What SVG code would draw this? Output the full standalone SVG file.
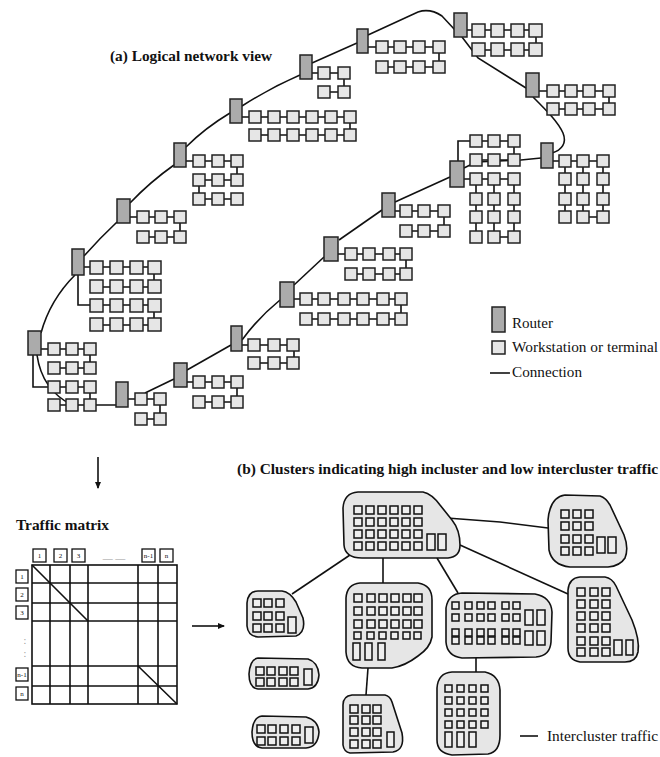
<svg xmlns="http://www.w3.org/2000/svg" xmlns:xlink="http://www.w3.org/1999/xlink" width="660" height="757" viewBox="0 0 660 757">
<style>
.c{fill:none;stroke:#111;stroke-width:1.6}
.rt{fill:#ababab;stroke:#222;stroke-width:1.5}
.ws{fill:#e6e6e6;stroke:#222;stroke-width:1.5}
.cl{fill:#e6e6e6;stroke:#111;stroke-width:1.6}
.cb{fill:#eeeeee;stroke:#111;stroke-width:1.5}
.t{font-family:"Liberation Serif",serif;font-weight:bold;font-size:15px;fill:#111}
.l{font-family:"Liberation Serif",serif;font-size:15px;fill:#111}
.h{font-family:"Liberation Serif",serif;font-size:7px;fill:#111;text-anchor:middle}
.g{font-family:"Liberation Serif",serif;font-size:10px;fill:#999;text-anchor:middle}
.m{fill:none;stroke:#111;stroke-width:1.6}
</style>
<defs>
<rect id="w" width="12" height="12" class="ws"/>
<rect id="w13" width="13" height="13" class="ws"/>
<rect id="k" width="8" height="8" class="cb"/>
<rect id="k7" width="7" height="7" class="cb"/>
<rect id="kt" width="8" height="16" class="cb"/>
<marker id="ah" markerWidth="8" markerHeight="8" refX="6" refY="4" orient="auto" markerUnits="userSpaceOnUse"><path d="M0,1 L7,4 L0,7 Z" fill="#111"/></marker>
</defs>
<rect width="660" height="757" fill="#fff"/>

<text class="t" x="110" y="61" textLength="162" lengthAdjust="spacingAndGlyphs">(a) Logical network view</text>

<g id="connectors">
<!-- ring -->
<path class="c" d="M41,333 Q50,300 75,275"/>
<path class="c" d="M84,256 Q100,238 117,222"/>
<path class="c" d="M130,203 Q150,182 174,165"/>
<path class="c" d="M186,147 Q205,128 230,113"/>
<path class="c" d="M242,106 Q270,88 300,75"/>
<path class="c" d="M312,63 L357,43"/>
<path class="c" d="M368,35 L418,12 Q430,8 442,16 L455,30"/>
<path class="c" d="M462,37 L478,58 L526,88"/>
<path class="c" d="M533,97 C548,112 558,122 563,133 C567,143 562,150 552,153"/>
<path class="c" d="M541,158 L521,160 L476,162 L464,168"/>
<path class="c" d="M450,177 L395,202"/>
<path class="c" d="M382,210 L339,240"/>
<path class="c" d="M324,257 L294,285"/>
<path class="c" d="M280,300 Q258,318 242,340"/>
<path class="c" d="M231,345 L187,370"/>
<path class="c" d="M174,379 L145,393"/>
<path class="c" d="M37,355 Q42,390 72,405"/>
<path class="c" d="M54,405 H116"/>
<!-- intra-group -->
<path class="c" d="M312,73 H344 V92 H324"/>
<path class="c" d="M242,117 H350 V135 H255"/>
<path class="c" d="M186,161 H237 V180 H199 V199 H237"/>
<path class="c" d="M130,217 H180 V237 H143"/>
<path class="c" d="M84,267 H154 V287 H96 M78,275 V305 H154 V325 H96"/>
<path class="c" d="M41,349 H90 V368 H54 M33,355 V387 H90 V405"/>
<path class="c" d="M128,399 H160 V419 H141"/>
<path class="c" d="M187,382 H237 V402 H199"/>
<path class="c" d="M242,345 H294 V363 H254"/>
<path class="c" d="M294,299 H401 V319 H306"/>
<path class="c" d="M338,254 H406 V274 H351"/>
<path class="c" d="M395,211 H444 V231 H406"/>
<path class="c" d="M458,161 V141 H514 V160 H476 M464,179 H514 M476,179 V237 M494,179 V237 M514,179 V237 M494,237 H514"/>
<path class="c" d="M552,161 H603 M565,161 V217 M583,161 V217 M603,161 V217 M583,217 H603"/>
<path class="c" d="M539,91 H609 V109 H553"/>
<path class="c" d="M467,30 H536 V50 H478"/>
<path class="c" d="M368,47 H439 V67 H382"/>
<!-- arrows -->
<path class="c" d="M98,457 V488" marker-end="url(#ah)"/>
<path class="c" d="M192,626 H224" marker-end="url(#ah)"/>
<!-- cluster links -->
<path class="c" d="M447,518 L500,522 L548,528"/>
<path class="c" d="M460,545 L568,594"/>
<path class="c" d="M437,558 L458,593"/>
<path class="c" d="M383,558 V583"/>
<path class="c" d="M350,555 L292,594"/>
<path class="c" d="M368,668 L366,695"/>
<path class="c" d="M476,658 V672"/>
</g>

<g id="r1"><rect class="rt" x="300" y="55" width="12" height="24"/>
<use href="#w" x="318" y="67"/><use href="#w" x="338" y="67"/><use href="#w" x="318" y="86"/><use href="#w" x="338" y="86"/></g>

<g id="r2"><rect class="rt" x="230" y="99" width="12" height="24"/>
<use href="#w" x="249" y="111"/><use href="#w" x="268" y="111"/><use href="#w" x="287" y="111"/><use href="#w" x="306" y="111"/><use href="#w" x="325" y="111"/><use href="#w" x="344" y="111"/>
<use href="#w" x="249" y="129"/><use href="#w" x="268" y="129"/><use href="#w" x="287" y="129"/><use href="#w" x="306" y="129"/><use href="#w" x="325" y="129"/><use href="#w" x="344" y="129"/></g>

<g id="r3"><rect class="rt" x="174" y="143" width="12" height="24"/>
<use href="#w" x="193" y="155"/><use href="#w" x="212" y="155"/><use href="#w" x="231" y="155"/>
<use href="#w" x="193" y="174"/><use href="#w" x="212" y="174"/><use href="#w" x="231" y="174"/>
<use href="#w" x="193" y="193"/><use href="#w" x="212" y="193"/><use href="#w" x="231" y="193"/></g>

<g id="r4"><rect class="rt" x="117" y="199" width="13" height="24"/>
<use href="#w" x="137" y="211"/><use href="#w" x="155" y="211"/><use href="#w" x="174" y="211"/>
<use href="#w" x="137" y="231"/><use href="#w" x="155" y="231"/><use href="#w" x="174" y="231"/></g>

<g id="r5"><rect class="rt" x="72" y="249" width="12" height="26"/>
<use href="#w13" x="90" y="261"/><use href="#w13" x="110" y="261"/><use href="#w13" x="130" y="261"/><use href="#w13" x="148" y="261"/>
<use href="#w13" x="90" y="280"/><use href="#w13" x="110" y="280"/><use href="#w13" x="130" y="280"/><use href="#w13" x="148" y="280"/>
<use href="#w13" x="90" y="299"/><use href="#w13" x="110" y="299"/><use href="#w13" x="130" y="299"/><use href="#w13" x="148" y="299"/>
<use href="#w13" x="90" y="318"/><use href="#w13" x="110" y="318"/><use href="#w13" x="130" y="318"/><use href="#w13" x="148" y="318"/></g>

<g id="r6"><rect class="rt" x="28" y="331" width="13" height="24"/>
<use href="#w" x="48" y="343"/><use href="#w" x="66" y="343"/><use href="#w" x="84" y="343"/>
<use href="#w" x="48" y="362"/><use href="#w" x="66" y="362"/><use href="#w" x="84" y="362"/>
<use href="#w" x="48" y="381"/><use href="#w" x="66" y="381"/><use href="#w" x="84" y="381"/>
<use href="#w" x="48" y="399"/><use href="#w" x="66" y="399"/><use href="#w" x="84" y="399"/></g>

<g id="r7"><rect class="rt" x="116" y="382" width="12" height="25"/>
<use href="#w" x="135" y="393"/><use href="#w" x="154" y="393"/><use href="#w" x="135" y="413"/><use href="#w" x="154" y="413"/></g>

<g id="r8"><rect class="rt" x="174" y="363" width="13" height="24"/>
<use href="#w" x="193" y="376"/><use href="#w" x="212" y="376"/><use href="#w" x="231" y="376"/>
<use href="#w" x="193" y="396"/><use href="#w" x="212" y="396"/><use href="#w" x="231" y="396"/></g>

<g id="r9"><rect class="rt" x="231" y="326" width="11" height="25"/>
<use href="#w" x="248" y="339"/><use href="#w" x="268" y="339"/><use href="#w" x="287" y="339"/>
<use href="#w" x="248" y="357"/><use href="#w" x="268" y="357"/><use href="#w" x="287" y="357"/></g>

<g id="r10"><rect class="rt" x="280" y="282" width="14" height="25"/>
<use href="#w" x="300" y="293"/><use href="#w" x="318" y="293"/><use href="#w" x="338" y="293"/><use href="#w" x="357" y="293"/><use href="#w" x="377" y="293"/><use href="#w" x="395" y="293"/>
<use href="#w" x="300" y="313"/><use href="#w" x="318" y="313"/><use href="#w" x="338" y="313"/><use href="#w" x="357" y="313"/><use href="#w" x="377" y="313"/><use href="#w" x="395" y="313"/></g>

<g id="r11"><rect class="rt" x="324" y="237" width="14" height="24"/>
<use href="#w" x="345" y="248"/><use href="#w" x="363" y="248"/><use href="#w" x="383" y="248"/><use href="#w" x="400" y="248"/>
<use href="#w" x="345" y="268"/><use href="#w" x="363" y="268"/><use href="#w" x="383" y="268"/><use href="#w" x="400" y="268"/></g>

<g id="r12"><rect class="rt" x="382" y="193" width="13" height="24"/>
<use href="#w" x="400" y="205"/><use href="#w" x="418" y="205"/><use href="#w" x="438" y="205"/>
<use href="#w" x="400" y="225"/><use href="#w" x="418" y="225"/><use href="#w" x="438" y="225"/></g>

<g id="r13"><rect class="rt" x="450" y="161" width="14" height="26"/>
<use href="#w" x="470" y="135"/><use href="#w" x="488" y="135"/><use href="#w" x="508" y="135"/>
<use href="#w" x="470" y="154"/><use href="#w" x="488" y="154"/><use href="#w" x="508" y="154"/>
<use href="#w" x="470" y="173"/><use href="#w" x="488" y="173"/><use href="#w" x="508" y="173"/>
<use href="#w" x="470" y="193"/><use href="#w" x="488" y="193"/><use href="#w" x="508" y="193"/>
<use href="#w" x="470" y="211"/><use href="#w" x="488" y="211"/><use href="#w" x="508" y="211"/>
<use href="#w" x="470" y="231"/><use href="#w" x="488" y="231"/><use href="#w" x="508" y="231"/></g>

<g id="r14"><rect class="rt" x="541" y="143" width="12" height="25"/>
<use href="#w" x="559" y="155"/><use href="#w" x="577" y="155"/><use href="#w" x="597" y="155"/>
<use href="#w" x="559" y="173"/><use href="#w" x="577" y="173"/><use href="#w" x="597" y="173"/>
<use href="#w" x="559" y="193"/><use href="#w" x="577" y="193"/><use href="#w" x="597" y="193"/>
<use href="#w" x="559" y="211"/><use href="#w" x="577" y="211"/><use href="#w" x="597" y="211"/></g>

<g id="r15"><rect class="rt" x="526" y="73" width="13" height="24"/>
<use href="#w" x="547" y="85"/><use href="#w" x="565" y="85"/><use href="#w" x="583" y="85"/><use href="#w" x="603" y="85"/>
<use href="#w" x="547" y="103"/><use href="#w" x="565" y="103"/><use href="#w" x="583" y="103"/><use href="#w" x="603" y="103"/></g>

<g id="r16"><rect class="rt" x="454" y="13" width="13" height="24"/>
<use href="#w13" x="472" y="24"/><use href="#w13" x="491" y="24"/><use href="#w13" x="511" y="24"/><use href="#w13" x="529" y="24"/>
<use href="#w13" x="472" y="43"/><use href="#w13" x="491" y="43"/><use href="#w13" x="511" y="43"/><use href="#w13" x="529" y="43"/></g>

<g id="r17"><rect class="rt" x="357" y="29" width="11" height="24"/>
<use href="#w" x="376" y="41"/><use href="#w" x="394" y="41"/><use href="#w" x="413" y="41"/><use href="#w" x="433" y="41"/>
<use href="#w" x="376" y="61"/><use href="#w" x="394" y="61"/><use href="#w" x="413" y="61"/><use href="#w" x="433" y="61"/></g>

<g id="legend-a">
<rect class="rt" x="492" y="307" width="13" height="25"/>
<text class="l" x="512" y="328" textLength="41" lengthAdjust="spacingAndGlyphs">Router</text>
<use href="#w13" x="492" y="341"/>
<text class="l" x="512" y="352" textLength="146" lengthAdjust="spacingAndGlyphs">Workstation or terminal</text>
<path class="c" d="M490,373 H510"/>
<text class="l" x="512" y="377" textLength="70" lengthAdjust="spacingAndGlyphs">Connection</text>
</g>

<text class="t" x="16" y="530" textLength="93" lengthAdjust="spacingAndGlyphs">Traffic matrix</text>
<g id="matrix">
<rect class="m" x="32" y="565" width="145" height="139"/>
<path class="m" d="M50,565 V704 M70,565 V704 M88,565 V704 M138,565 V704 M158,565 V704 M32,583 H177 M32,603 H177 M32,621 H177 M32,666 H177 M32,686 H177"/>
<path class="m" d="M32,565 L88,621 M138,666 L177,704"/>
<g fill="#fff" stroke="#111" stroke-width="1.3">
<rect x="33" y="549" width="13" height="13"/><rect x="54" y="549" width="13" height="13"/><rect x="72" y="549" width="13" height="13"/><rect x="142" y="549" width="13" height="13"/><rect x="160" y="549" width="13" height="13"/>
<rect x="16" y="570" width="12" height="13"/><rect x="16" y="588" width="12" height="13"/><rect x="16" y="606" width="12" height="13"/><rect x="16" y="668" width="12" height="13"/><rect x="16" y="687" width="12" height="13"/>
</g>
<text class="h" x="39.5" y="558">1</text><text class="h" x="60.5" y="558">2</text><text class="h" x="78.5" y="558">3</text><text class="h" x="148.5" y="558">n-1</text><text class="h" x="166.5" y="558">n</text>
<text class="h" x="22" y="579">1</text><text class="h" x="22" y="597">2</text><text class="h" x="22" y="615">3</text><text class="h" x="22" y="677">n-1</text><text class="h" x="22" y="696">n</text>
<text class="g" x="114" y="562">— —</text>
<text class="g" x="25" y="644">:</text><text class="g" x="25" y="657">:</text>
</g>

<text class="t" x="237" y="474" textLength="421" lengthAdjust="spacingAndGlyphs">(b) Clusters indicating high incluster and low intercluster traffic</text>

<g id="c1"><path class="cl" d="M358,492 L423,492 Q432,494 440,505 L452,520 Q460,530 460,545 Q460,557 448,558 L362,558 Q345,558 344,545 L343,508 Q344,493 358,492 Z"/>
<use href="#k" x="354" y="506"/><use href="#k" x="366" y="506"/><use href="#k" x="378" y="506"/><use href="#k" x="390" y="506"/><use href="#k" x="402" y="506"/><use href="#k" x="414" y="506"/>
<use href="#k" x="354" y="518"/><use href="#k" x="366" y="518"/><use href="#k" x="378" y="518"/><use href="#k" x="390" y="518"/><use href="#k" x="402" y="518"/><use href="#k" x="414" y="518"/>
<use href="#k" x="354" y="530"/><use href="#k" x="366" y="530"/><use href="#k" x="378" y="530"/><use href="#k" x="390" y="530"/><use href="#k" x="402" y="530"/><use href="#k" x="414" y="530"/>
<use href="#k" x="354" y="542"/><use href="#k" x="366" y="542"/><use href="#k" x="378" y="542"/><use href="#k" x="390" y="542"/><use href="#k" x="402" y="542"/><use href="#k" x="414" y="542"/>
<use href="#kt" x="427" y="534"/><use href="#kt" x="438" y="534"/></g>

<g id="c2"><path class="cl" d="M565,495 L600,496 Q606,498 610,505 L624,535 Q629,548 625,558 Q620,566 608,567 L570,567 Q552,565 549,550 L548,520 Q550,497 565,495 Z"/>
<use href="#k" x="561" y="510"/><use href="#k" x="573" y="510"/><use href="#k" x="585" y="510"/>
<use href="#k" x="561" y="522"/><use href="#k" x="573" y="522"/><use href="#k" x="585" y="522"/>
<use href="#k" x="561" y="535"/><use href="#k" x="573" y="535"/><use href="#k" x="585" y="535"/>
<use href="#k" x="561" y="547"/><use href="#k" x="573" y="547"/><use href="#k" x="585" y="547"/>
<use href="#kt" x="597" y="537"/><use href="#kt" x="608" y="537"/></g>

<g id="c3"><path class="cl" d="M258,591 L282,591 Q290,592 296,602 L303,618 Q306,632 296,636 L258,637 Q248,636 247,626 L247,603 Q248,591 258,591 Z"/>
<use href="#k" x="253" y="599"/><use href="#k" x="264" y="599"/><use href="#k" x="276" y="599"/>
<use href="#k" x="253" y="612"/><use href="#k" x="264" y="612"/><use href="#k" x="276" y="612"/>
<use href="#k" x="253" y="624"/><use href="#k" x="264" y="624"/><use href="#k" x="276" y="624"/>
<use href="#kt" x="288" y="617"/></g>

<g id="c4"><path class="cl" d="M258,658 L308,659 Q318,662 319,675 Q318,688 308,689 L258,689 Q249,688 249,674 Q250,659 258,658 Z"/>
<use href="#k" x="256" y="667"/><use href="#k" x="267" y="667"/><use href="#k" x="279" y="667"/><use href="#k" x="290" y="667"/>
<use href="#k" x="256" y="678"/><use href="#k" x="267" y="678"/><use href="#k" x="279" y="678"/><use href="#k" x="290" y="678"/>
<use href="#kt" x="304" y="669"/></g>

<g id="c5"><path class="cl" d="M262,716 L306,717 Q318,720 319,732 Q318,747 306,748 L262,748 Q252,747 252,732 Q253,717 262,716 Z"/>
<use href="#k" x="257" y="725"/><use href="#k" x="268" y="725"/><use href="#k" x="280" y="725"/><use href="#k" x="292" y="725"/>
<use href="#k" x="257" y="737"/><use href="#k" x="268" y="737"/><use href="#k" x="280" y="737"/><use href="#k" x="292" y="737"/>
<use href="#kt" x="305" y="727"/></g>

<g id="c6"><path class="cl" d="M360,583 L418,583 Q432,585 432,600 L432,637 Q430,648 418,656 Q405,666 392,668 L362,668 Q347,667 346,652 L346,598 Q347,584 360,583 Z"/>
<use href="#k" x="354" y="594"/><use href="#k" x="367" y="594"/><use href="#k" x="379" y="594"/><use href="#k" x="391" y="594"/><use href="#k" x="403" y="594"/><use href="#k" x="414" y="594"/>
<use href="#k" x="354" y="607"/><use href="#k" x="367" y="607"/><use href="#k" x="379" y="607"/><use href="#k" x="391" y="607"/><use href="#k" x="403" y="607"/><use href="#k" x="414" y="607"/>
<use href="#k" x="354" y="620"/><use href="#k" x="367" y="620"/><use href="#k" x="379" y="620"/><use href="#k" x="391" y="620"/><use href="#k" x="403" y="620"/><use href="#k" x="414" y="620"/>
<use href="#k7" x="354" y="632"/><use href="#k7" x="367" y="632"/><use href="#k7" x="379" y="632"/><use href="#k7" x="391" y="632"/><use href="#k7" x="403" y="632"/><use href="#k7" x="414" y="632"/>
<rect class="cb" x="353" y="643" width="7" height="17"/><rect class="cb" x="365" y="643" width="7" height="17"/><rect class="cb" x="378" y="643" width="7" height="17"/></g>

<g id="c7"><path class="cl" d="M352,695 L385,695 Q390,696 392,702 L402,733 Q405,750 393,752 L350,753 Q344,752 343,745 L343,705 Q343,696 352,695 Z"/>
<use href="#k" x="350" y="705"/><use href="#k" x="362" y="705"/><use href="#k" x="373" y="705"/>
<use href="#k" x="350" y="716"/><use href="#k" x="362" y="716"/><use href="#k" x="373" y="716"/>
<use href="#k" x="350" y="728"/><use href="#k" x="362" y="728"/><use href="#k" x="373" y="728"/>
<use href="#k" x="350" y="740"/><use href="#k" x="362" y="740"/><use href="#k" x="373" y="740"/>
<rect class="cb" x="387" y="732" width="7" height="15"/></g>

<g id="c8"><path class="cl" d="M462,593 L535,594 Q551,597 552,612 L551,642 Q550,656 536,657 L462,658 Q447,656 446,642 L446,608 Q448,594 462,593 Z"/>
<use href="#k7" x="452" y="602"/><use href="#k7" x="465" y="602"/><use href="#k7" x="477" y="602"/><use href="#k7" x="488" y="602"/><use href="#k7" x="502" y="602"/><use href="#k7" x="513" y="602"/>
<use href="#k7" x="452" y="614"/><use href="#k7" x="465" y="614"/><use href="#k7" x="477" y="614"/><use href="#k7" x="488" y="614"/><use href="#k7" x="502" y="614"/><use href="#k7" x="513" y="614"/>
<use href="#k7" x="452" y="629"/><use href="#k7" x="465" y="629"/><use href="#k7" x="477" y="629"/><use href="#k7" x="488" y="629"/><use href="#k7" x="502" y="629"/><use href="#k7" x="513" y="629"/>
<use href="#k7" x="452" y="637"/><use href="#k7" x="465" y="637"/><use href="#k7" x="477" y="637"/><use href="#k7" x="488" y="637"/><use href="#k7" x="502" y="637"/><use href="#k7" x="513" y="637"/>
<rect class="cb" x="525" y="610" width="8" height="15"/><rect class="cb" x="537" y="610" width="8" height="15"/>
<rect class="cb" x="525" y="631" width="8" height="14"/><rect class="cb" x="537" y="631" width="8" height="14"/></g>

<g id="c9"><path class="cl" d="M580,577 L605,577 Q612,578 616,586 L632,620 Q640,640 638,652 Q636,662 625,662 L580,662 Q568,660 568,648 L568,590 Q569,578 580,577 Z"/>
<use href="#k" x="577" y="588"/><use href="#k" x="590" y="588"/><use href="#k" x="602" y="588"/>
<use href="#k" x="577" y="600"/><use href="#k" x="590" y="600"/><use href="#k" x="602" y="600"/>
<use href="#k" x="577" y="612"/><use href="#k" x="590" y="612"/><use href="#k" x="602" y="612"/>
<use href="#k" x="577" y="624"/><use href="#k" x="590" y="624"/><use href="#k" x="602" y="624"/>
<use href="#k" x="577" y="637"/><use href="#k" x="590" y="637"/><use href="#k" x="602" y="637"/>
<use href="#k" x="577" y="648"/><use href="#k" x="590" y="648"/><use href="#k" x="602" y="648"/>
<rect class="cb" x="614" y="640" width="8" height="15"/><rect class="cb" x="626" y="640" width="7" height="15"/></g>

<g id="c10"><path class="cl" d="M452,672 L485,672 Q499,675 500,690 L500,735 Q500,752 488,754 L452,755 Q437,753 437,740 L437,688 Q438,673 452,672 Z"/>
<use href="#k7" x="445" y="685"/><use href="#k7" x="457" y="685"/><use href="#k7" x="469" y="685"/><use href="#k7" x="481" y="685"/>
<use href="#k7" x="445" y="697"/><use href="#k7" x="457" y="697"/><use href="#k7" x="469" y="697"/><use href="#k7" x="481" y="697"/>
<use href="#k7" x="445" y="709"/><use href="#k7" x="457" y="709"/><use href="#k7" x="469" y="709"/><use href="#k7" x="481" y="709"/>
<use href="#k7" x="445" y="721"/><use href="#k7" x="457" y="721"/><use href="#k7" x="469" y="721"/><use href="#k7" x="481" y="721"/>
<rect class="cb" x="445" y="732" width="7" height="15"/><rect class="cb" x="457" y="732" width="7" height="15"/><rect class="cb" x="469" y="732" width="7" height="15"/></g>

<g id="legend-b">
<path class="c" d="M520,736 H538"/>
<text class="l" x="547" y="741" textLength="111" lengthAdjust="spacingAndGlyphs">Intercluster traffic</text>
</g>
</svg>
